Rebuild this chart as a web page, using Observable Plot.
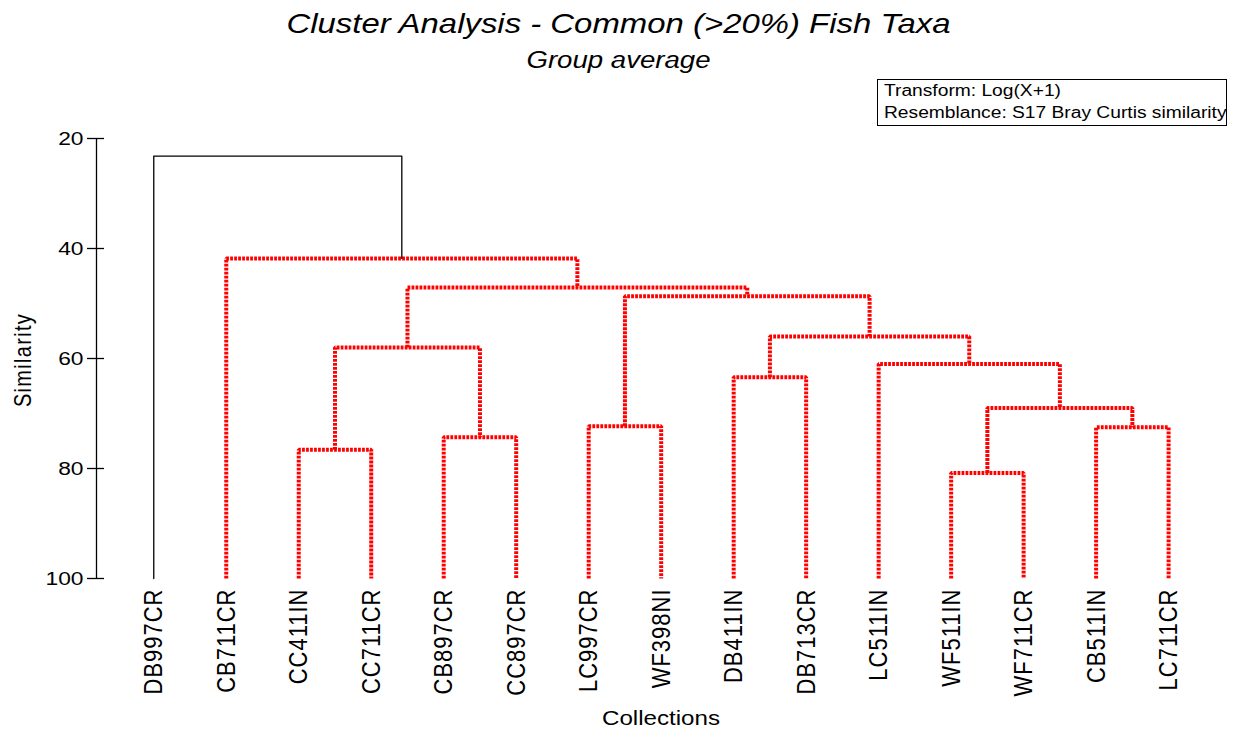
<!DOCTYPE html>
<html><head><meta charset="utf-8">
<script src="https://cdn.jsdelivr.net/npm/d3@7"></script>
<script src="https://cdn.jsdelivr.net/npm/@observablehq/plot@0.6"></script>
<style>
body{margin:0;background:#fff;font-family:"Liberation Sans",Arial,sans-serif;color:#000;}
#wrap{position:relative;width:1233px;height:732px;overflow:hidden;background:#fff;}
#chart{position:absolute;left:0;top:0;}
.t{position:absolute;left:0;width:1237px;text-align:center;font-style:italic;white-space:nowrap;}
#title{top:8px;font-size:28px;line-height:32px;transform:scaleX(1.175);}
#subtitle{top:47px;font-size:23px;line-height:26px;transform:scaleX(1.2);}
#legend{position:absolute;left:877px;top:79px;width:350px;height:47px;border:1.5px solid #000;box-sizing:border-box;font-size:16px;line-height:22px;padding-left:6px;white-space:nowrap;}
#legend span{display:block;transform:scaleX(1.2);transform-origin:0 50%;}
#xlabel{position:absolute;left:0;width:1322px;text-align:center;top:705px;font-size:21px;line-height:26px;transform:scaleX(1.15);}
#ylabel{position:absolute;left:23px;top:360px;transform:translate(-50%,-50%) rotate(-90deg) scaleY(1.2);font-size:20px;letter-spacing:1.3px;white-space:nowrap;}
</style></head>
<body>
<div id="wrap">
  <div id="chart"></div>
  <div class="t" id="title">Cluster Analysis - Common (&gt;20%) Fish Taxa</div>
  <div class="t" id="subtitle">Group average</div>
  <div id="legend"><span>Transform: Log(X+1)</span><span>Resemblance: S17 Bray Curtis similarity</span></div>
  <div id="ylabel">Similarity</div>
  <div id="xlabel">Collections</div>
</div>
<script>
// Leaves (in dendrogram order)
const leaves = ["DB997CR","CB711CR","CC411IN","CC711CR","CB897CR","CC897CR","LC997CR","WF398NI","DB411IN","DB713CR","LC511IN","WF511IN","WF711CR","CB511IN","LC711CR"];
// Merges: node ids < 15 are leaves, id 15+j is the cluster formed by merge j
const mergeLeft   = [2, 4, 6, 8, 11, 13, 19, 10, 18, 15, 17, 24, 1, 0];
const mergeRight  = [3, 5, 7, 9, 12, 14, 20, 21, 22, 16, 23, 25, 26, 27];
const mergeHeight = [76.6, 74.3, 72.3, 63.4, 80.8, 72.5, 69.0, 61.0, 56.0, 58.0, 48.7, 47.1, 41.8, 23.2];
const yTicks = [20, 40, 60, 80, 100];
const leafHeight = 100;

const n = leaves.length;
const nodeX = leaves.map((_, i) => i);
const nodeH = leaves.map(() => leafHeight);
const segs = [];
mergeHeight.forEach((h, j) => {
  const l = mergeLeft[j], r = mergeRight[j];
  const g = j === mergeHeight.length - 1 ? "black" : "red";
  segs.push({x: nodeX[l], y: nodeH[l], z: j, g});
  segs.push({x: nodeX[l], y: h, z: j, g});
  segs.push({x: nodeX[r], y: h, z: j, g});
  segs.push({x: nodeX[r], y: nodeH[r], z: j, g});
  nodeX.push((nodeX[l] + nodeX[r]) / 2);
  nodeH.push(h);
});
const xMin = -0.79, xMax = 14.44;

const chart = Plot.plot({
  width: 1233, height: 732,
  marginTop: 138, marginBottom: 154, marginLeft: 96, marginRight: 33,
  style: {fontFamily: "'Liberation Sans', Arial, sans-serif", color: "#000", background: "transparent", overflow: "visible"},
  x: {domain: [xMin, xMax], axis: null},
  y: {domain: [20, 100], reverse: true, axis: null},
  marks: [
    Plot.ruleX([xMin], {y1: 20, y2: 100, stroke: "#000", strokeWidth: 1.3}),
    Plot.axisY({ticks: yTicks, tickSize: 17, dx: 8, tickPadding: 4, fontSize: 19, label: null, strokeWidth: 1.3}),
    Plot.axisX({ticks: nodeX.slice(0, n), tickFormat: i => leaves[i], tickRotate: -90, tickSize: 0, tickPadding: 10, fontSize: 22, label: null}),
    Plot.line(segs.filter(d => d.g === "red"), {x: "x", y: "y", z: "z", stroke: "#ff0000", strokeWidth: 4, strokeDasharray: "2.8,1.2", strokeLinejoin: "miter", strokeLinecap: "butt", curve: "linear"}),
    Plot.line(segs.filter(d => d.g === "black"), {x: "x", y: "y", z: "z", stroke: "#000", strokeWidth: 1.3, curve: "linear"})
  ]
});
// the reference rendering is stretched horizontally by ~1.2
d3.select(chart).selectAll("g[aria-label='x-axis tick label'] text")
  .style("letter-spacing", "1px")
  .attr("transform", function() { return (this.getAttribute("transform") || "") + " scale(1,1.2)"; });
d3.select(chart).selectAll("g[aria-label='y-axis tick label'] text")
  .attr("transform", function() { return (this.getAttribute("transform") || "") + " scale(1.2,1)"; });
document.getElementById("chart").appendChild(chart);
</script>
</body></html>
